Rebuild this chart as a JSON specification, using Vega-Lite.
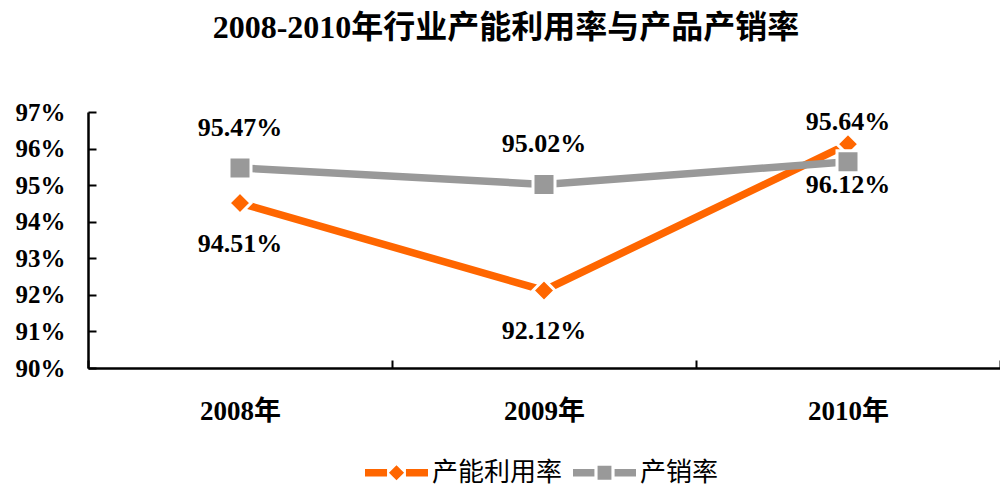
{
  "$schema": "https://vega.github.io/schema/vega-lite/v6.json",
  "width": 912,
  "height": 256,
  "autosize": "none",
  "padding": {"left": 88, "top": 112, "right": 0, "bottom": 122},
  "background": "white",
  "title": {
    "text": "2008-2010年行业产能利用率与产品产销率",
    "font": "Liberation Serif, Noto Sans CJK SC",
    "fontSize": 32,
    "fontWeight": "bold",
    "color": "black",
    "anchor": "middle",
    "frame": "group",
    "dx": -38,
    "offset": 55
  },
  "config": {
    "view": {"stroke": null},
    "font": "Liberation Serif, Noto Sans CJK SC"
  },
  "data": {
    "values": [
      {"year": "2008年", "series": "产能利用率", "value": 0.9451},
      {"year": "2009年", "series": "产能利用率", "value": 0.9212},
      {"year": "2010年", "series": "产能利用率", "value": 0.9612},
      {"year": "2008年", "series": "产销率", "value": 0.9547},
      {"year": "2009年", "series": "产销率", "value": 0.9502},
      {"year": "2010年", "series": "产销率", "value": 0.9564}
    ]
  },
  "encoding": {
    "x": {
      "field": "year",
      "type": "ordinal",
      "scale": {"paddingInner": 0, "paddingOuter": 0},
      "axis": {
        "title": null,
        "labelAngle": 0,
        "labelFont": "Liberation Serif, Noto Sans CJK SC",
        "labelFontSize": 27,
        "labelFontWeight": "bold",
        "labelColor": "black",
        "labelPadding": 38,
        "tickBand": "extent",
        "tickSize": -8,
        "tickWidth": 2,
        "tickColor": "black",
        "domainColor": "black",
        "domainWidth": 2.5
      }
    },
    "y": {
      "field": "value",
      "type": "quantitative",
      "scale": {"domain": [0.9, 0.97], "zero": false, "nice": false},
      "axis": {
        "title": null,
        "values": [0.9, 0.91, 0.92, 0.93, 0.94, 0.95, 0.96, 0.97],
        "format": ".0%",
        "grid": false,
        "labelFont": "Liberation Serif",
        "labelFontSize": 25,
        "labelFontWeight": "bold",
        "labelColor": "black",
        "labelPadding": 31,
        "tickSize": -8,
        "tickWidth": 2,
        "tickColor": "black",
        "domainColor": "black",
        "domainWidth": 2.5
      }
    },
    "color": {
      "field": "series",
      "type": "nominal",
      "scale": {"domain": ["产能利用率", "产销率"], "range": ["#FF6600", "#999999"]},
      "legend": {
        "title": null,
        "orient": "none",
        "direction": "horizontal",
        "legendX": 277,
        "legendY": 329,
        "symbolSize": 3969,
        "symbolStrokeWidth": 0,
        "symbolOpacity": 1,
        "labelFont": "Noto Sans CJK SC",
        "labelFontSize": 26,
        "labelColor": "black",
        "labelOffset": 4,
        "columnPadding": 10,
        "encode": {
          "symbols": {
            "update": {
              "shape": {"signal": "datum.value === '产能利用率' ? 'M-1,-0.12 L-0.3,-0.12 L-0.3,0.12 L-1,0.12 Z M0,-0.24 L0.24,0 L0,0.24 L-0.24,0 Z M0.3,-0.12 L1,-0.12 L1,0.12 L0.3,0.12 Z' : 'M-1,-0.12 L-0.32,-0.12 L-0.32,0.12 L-1,0.12 Z M-0.22,-0.22 L0.22,-0.22 L0.22,0.22 L-0.22,0.22 Z M0.32,-0.12 L1,-0.12 L1,0.12 L0.32,0.12 Z'"},
              "fill": {"signal": "datum.value === '产能利用率' ? '#FF6600' : '#999999'"},
              "stroke": {"value": "transparent"},
              "strokeWidth": {"value": 0},
              "opacity": {"value": 1}
            }
          }
        }
      }
    }
  },
  "layer": [
    {
      "mark": {"type": "line", "strokeWidth": 7.5}
    },
    {
      "transform": [{"filter": "datum.series === '产能利用率'"}],
      "mark": {"type": "point", "shape": "diamond", "filled": true, "size": 484, "stroke": "white", "strokeWidth": 3, "opacity": 1}
    },
    {
      "transform": [{"filter": "datum.series === '产销率'"}],
      "mark": {"type": "point", "shape": "square", "filled": true, "size": 484, "stroke": "white", "strokeWidth": 3, "opacity": 1}
    },
    {
      "transform": [{"filter": "datum.series === '产能利用率'"}],
      "mark": {"type": "text", "dy": 41, "font": "Liberation Serif", "fontSize": 26, "fontWeight": "bold"},
      "encoding": {"text": {"field": "value", "type": "quantitative", "format": ".2%"}, "color": {"value": "black"}}
    },
    {
      "transform": [{"filter": "datum.series === '产销率'"}],
      "mark": {"type": "text", "dy": -40, "font": "Liberation Serif", "fontSize": 26, "fontWeight": "bold"},
      "encoding": {"text": {"field": "value", "type": "quantitative", "format": ".2%"}, "color": {"value": "black"}}
    }
  ]
}
